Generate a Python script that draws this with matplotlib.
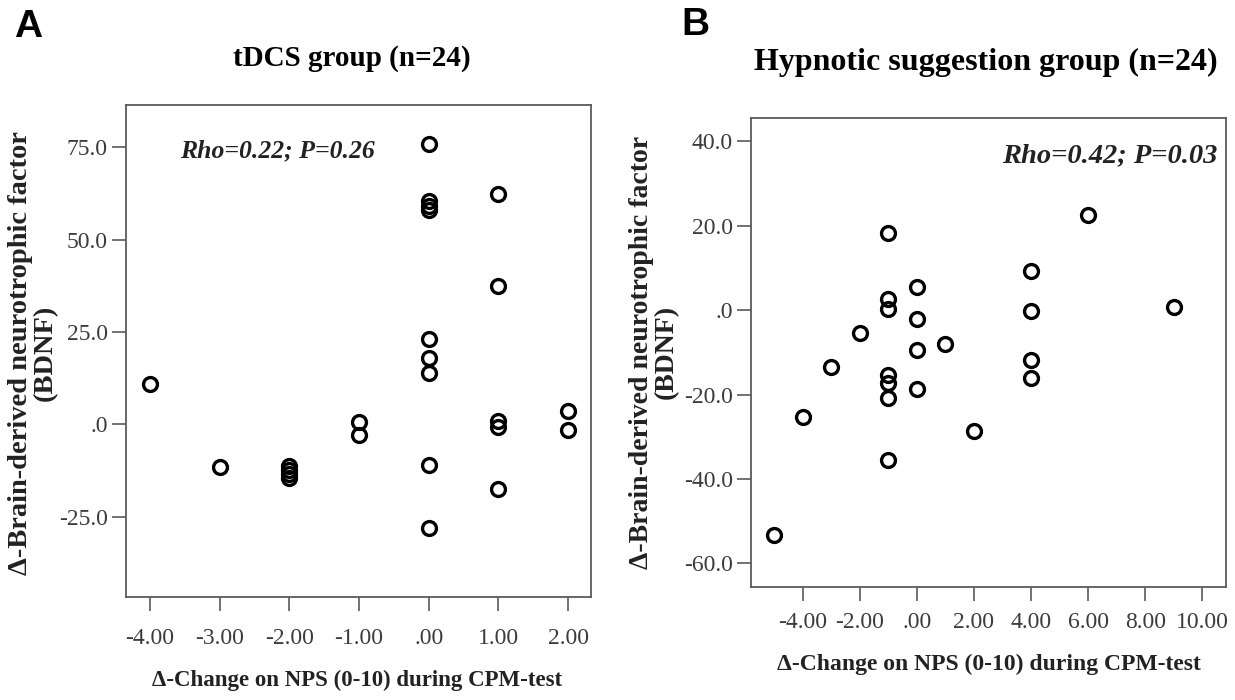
import matplotlib
matplotlib.use('Agg')
import matplotlib.pyplot as plt

# Panel A: tDCS group
a_x = [-4, -3, -2, -2, -2, -2, -1, -1,
       0, 0, 0, 0, 0, 0, 0, 0, 0,
       1, 1, 1, 1, 1, 2, 2]
a_y = [10.8, -11.6, -11.2, -12.3, -13.4, -14.5, 0.5, -2.8,
       76.0, 60.5, 59.2, 58.0, 23.0, 18.0, 14.0, -11.0, -28.0,
       62.5, 37.5, 1.0, -0.8, -17.5, 3.5, -1.5]
a_xticks = [-4, -3, -2, -1, 0, 1, 2]
a_xlabels = ['-4.00', '-3.00', '-2.00', '-1.00', '.00', '1.00', '2.00']
a_yticks = [75, 50, 25, 0, -25]
a_ylabels = ['75.0', '50.0', '25.0', '.0', '-25.0']

# Panel B: hypnotic suggestion group
b_x = [-5, -4, -3, -2,
       -1, -1, -1, -1, -1, -1, -1,
       0, 0, 0, 0, 1, 2,
       4, 4, 4, 4, 6, 9]
b_y = [-53.2, -25.3, -13.5, -5.5,
       18.2, 2.6, 0.2, -15.4, -17.2, -20.9, -35.4,
       5.4, -2.0, -9.4, -18.6, -8.1, -28.7,
       9.2, -0.3, -11.9, -16.1, 22.5, 0.7]
b_xticks = [-4, -2, 0, 2, 4, 6, 8, 10]
b_xlabels = ['-4.00', '-2.00', '.00', '2.00', '4.00', '6.00', '8.00', '10.00']
b_yticks = [40, 20, 0, -20, -40, -60]
b_ylabels = ['40.0', '20.0', '.0', '-20.0', '-40.0', '-60.0']

serif = 'Liberation Serif'
tick_col = '#3c3c3c'
W, H = 1235, 700

fig = plt.figure(figsize=(12.35, 7), dpi=100)


def rect(l, t, r, b):
    # pixel box (from top-left) -> figure fraction
    return [l / W, 1 - b / H, (r - l) / W, (b - t) / H]


def style(ax, xt, xl, yt, yl, fs, xpad):
    ax.set_xticks(xt)
    ax.set_xticklabels(xl)
    ax.set_yticks(yt)
    ax.set_yticklabels(yl)
    for s in ax.spines.values():
        s.set_color('#5a5a5a')
        s.set_linewidth(1.3)
    ax.tick_params(axis='both', direction='out', length=10, width=1.2,
                   color='#5a5a5a', labelcolor=tick_col, labelsize=fs)
    ax.tick_params(axis='x', pad=xpad)
    ax.tick_params(axis='y', pad=3)
    for lab in ax.get_xticklabels() + ax.get_yticklabels():
        lab.set_family(serif)


# ---- A ----
ax1 = fig.add_axes(rect(126, 105, 591, 597))
ax1.plot(a_x, a_y, 'o', ms=10, mfc='none', mec='black', mew=2.4)
ax1.set_xlim(-4.345, 2.33)
ax1.set_ylim(-46.8, 86.5)
style(ax1, a_xticks, a_xlabels, a_yticks, a_ylabels, 17, 12)
fig.text(180 / W, 1 - 151 / H, 'Rho=0.22; P=0.26', fontsize=18.5,
         family=serif, fontweight='bold', style='italic', va='center',
         color='#222222')

fig.text(28 / W, 1 - 27 / H, 'A', fontsize=28, fontweight='bold',
         family='Liberation Sans', ha='center', va='center')
fig.text(352 / W, 1 - 58 / H, 'tDCS group (n=24)', fontsize=21,
         fontweight='bold', family=serif, ha='center', va='center')
fig.text(357 / W, 1 - 680 / H, 'Δ-Change on NPS (0-10) during CPM-test',
         fontsize=16.5, fontweight='bold', family=serif, ha='center',
         va='center', color='#222222')
fig.text(33 / W, 1 - 353 / H, 'Δ-Brain-derived neurotrophic factor\n(BDNF)',
         fontsize=20.5, fontweight='bold', family=serif, ha='center',
         va='center', rotation=90, linespacing=1.0, color='#222222')

# ---- B ----
ax2 = fig.add_axes(rect(751, 118, 1226, 587))
ax2.plot(b_x, b_y, 'o', ms=10, mfc='none', mec='black', mew=2.4)
ax2.set_xlim(-5.81, 10.83)
ax2.set_ylim(-65.6, 45.5)
style(ax2, b_xticks, b_xlabels, b_yticks, b_ylabels, 17, 8)
fig.text(1217 / W, 1 - 156 / H, 'Rho=0.42; P=0.03', fontsize=20.5,
         family=serif, fontweight='bold', style='italic', va='center',
         ha='right', color='#222222')

fig.text(695 / W, 1 - 25 / H, 'B', fontsize=28, fontweight='bold',
         family='Liberation Sans', ha='center', va='center')
fig.text(986 / W, 1 - 62 / H, 'Hypnotic suggestion group (n=24)', fontsize=23,
         fontweight='bold', family=serif, ha='center', va='center')
fig.text(989 / W, 1 - 664 / H, 'Δ-Change on NPS (0-10) during CPM-test',
         fontsize=17, fontweight='bold', family=serif, ha='center',
         va='center', color='#222222')
fig.text(654 / W, 1 - 352 / H, 'Δ-Brain-derived neurotrophic factor\n(BDNF)',
         fontsize=20, fontweight='bold', family=serif, ha='center',
         va='center', rotation=90, linespacing=1.0, color='#222222')

fig.savefig('out.png', dpi=100)
